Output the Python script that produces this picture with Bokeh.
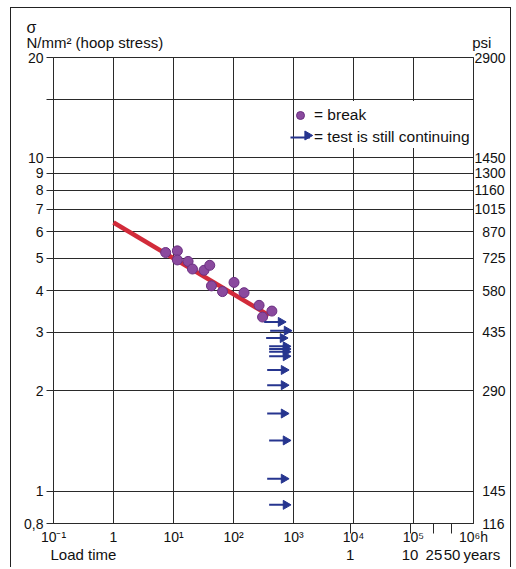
import math
from bokeh.plotting import figure
from bokeh.models import (Range1d, LogAxis, FixedTicker, Legend, LegendItem,
                          ColumnDataSource, BoxAnnotation)
from bokeh.embed import file_html
from bokeh.resources import INLINE

# ---------------- data ----------------
break_hours = [7.4, 11.6, 11.6, 17.5, 20.7, 32.3, 40.2, 42.9, 65.5, 102, 150, 267, 305, 436]
break_stress = [5.20, 5.26, 4.94, 4.89, 4.64, 4.60, 4.76, 4.13, 3.97, 4.23, 3.94, 3.61, 3.33, 3.47]

fit_hours = [1.0, 390.0]
fit_stress = [6.4, 3.37]

running_hours = [617, 776, 665, 746, 746, 746, 746, 692, 692, 692, 746, 692, 746]
running_stress = [3.22, 3.03, 2.88, 2.72, 2.67, 2.62, 2.54, 2.31, 2.08, 1.71, 1.42, 1.09, 0.91]

stress_ticks = [0.8, 1, 2, 3, 4, 5, 6, 7, 8, 9, 10, 20]
stress_labels = ["0,8", "1", "2", "3", "4", "5", "6", "7", "8", "9", "10", "20"]
psi_labels = ["116", "145", "290", "435", "580", "725", "870", "1015", "1160", "1300", "1450", "2900"]
grid_stress = [1, 2, 3, 4, 5, 6, 7, 8, 9, 10, 15]

hour_ticks = [0.1, 1, 10, 100, 1000, 10000, 100000, 1000000]
hour_labels = ["10\u207b\u00b9", "1", "10\u00b9", "10\u00b2", "10\u00b3", "10\u2074", "10\u2075", "10\u2076h"]

year_values = [1, 10, 25, 50]
year_labels = ["1", "10", "25", "50"]
HOURS_PER_YEAR = 8760

# ---------------- style / layout constants ----------------
FONT = "Liberation Sans"
FS = "14px"
FS2 = "15px"
INK = "#111111"
LINE = "#2a2a2a"
PURPLE = "#8a4a9e"
PURPLE_EDGE = "#6b2f82"
RED = "#d22b3a"
NAVY = "#26358f"
ARROW_TAIL_RATIO = 1.9
FIG_SPACE = "\u2007"
# legend decoration: arrow-head of the "still continuing" sample (legend box position)
LEGEND_HEAD_AT = (1711, 11.67)

p = figure(width=501, height=560, x_axis_type="log", y_axis_type="log",
           x_range=Range1d(0.1, 1e6), y_range=Range1d(0.8, 20),
           output_backend="svg", toolbar_location=None,
           min_border_left=42, min_border_right=39, min_border_top=49, min_border_bottom=45,
           background_fill_color="white", border_fill_color="white")
p.styles = {"margin-left": "10px", "margin-top": "7px",
            "border-top": "1px solid #222", "border-left": "1px solid #222",
            "border-right": "1px solid #222"}
p.outline_line_color = LINE
p.outline_line_width = 1

# title row: sigma
p.title.text = "\u03c3"
p.title.align = "left"
p.title.offset = -27
p.title.standoff = -10
p.title.text_font = FONT
p.title.text_font_size = "16px"
p.title.text_font_style = "normal"
p.title.text_color = INK

# grids
p.xgrid.ticker = FixedTicker(ticks=hour_ticks[1:-1])
p.ygrid.ticker = FixedTicker(ticks=grid_stress)
for g in (p.xgrid[0], p.ygrid[0]):
    g.grid_line_color = LINE
    g.grid_line_width = 1
    g.minor_grid_line_color = None

# bottom axis (hours)
xa = p.xaxis[0]
xa.ticker = FixedTicker(ticks=hour_ticks,
                        minor_ticks=[y * HOURS_PER_YEAR for y in year_values])
xa.major_label_overrides = {t: l for t, l in zip(hour_ticks, hour_labels)}
xa.major_tick_in = 0
xa.major_tick_out = 0
xa.minor_tick_in = 0
xa.minor_tick_out = 10
xa.minor_tick_line_color = LINE
xa.axis_line_color = LINE
xa.major_label_standoff = -5

# second bottom row: load time / years
row_hours = [0.316] + [y * HOURS_PER_YEAR for y in year_values] + [1e6]
row_text = ["Load time"] + year_labels + [FIG_SPACE * 2 + "years"]
xb = LogAxis(ticker=FixedTicker(ticks=row_hours, minor_ticks=[]))
xb.major_label_overrides = {t: l for t, l in zip(row_hours, row_text)}
p.add_layout(xb, "below")

# top row: unit labels
top_hours = [0.488, 1e6]
top_text = ["N/mm\u00b2 (hoop stress)", FIG_SPACE * 2 + "psi"]
xt = LogAxis(ticker=FixedTicker(ticks=top_hours, minor_ticks=[]))
xt.major_label_overrides = {t: l for t, l in zip(top_hours, top_text)}
p.add_layout(xt, "above")

for ax, so in ((xb, -2), (xt, 7)):
    ax.axis_line_color = None
    ax.major_tick_line_color = None
    ax.minor_tick_line_color = None
    ax.major_tick_out = 0
    ax.major_tick_in = 0
    ax.minor_tick_out = 0
    ax.minor_tick_in = 0
    ax.major_label_standoff = so
    ax.major_label_text_font = FONT
    ax.major_label_text_font_size = FS2
    ax.major_label_text_color = INK

# left axis
ya = p.yaxis[0]
ya.ticker = FixedTicker(ticks=stress_ticks + [15], minor_ticks=[])
ov = {t: l for t, l in zip(stress_ticks, stress_labels)}
ov[15] = ""
ya.major_label_overrides = ov
ya.major_tick_in = 0
ya.major_tick_out = 7
ya.major_tick_line_color = LINE
ya.minor_tick_line_color = None
ya.axis_line_color = LINE
ya.major_label_standoff = 3

# right axis (psi)
ra = LogAxis(ticker=FixedTicker(ticks=stress_ticks, minor_ticks=[]))
ra.major_label_overrides = {t: l.rjust(4, FIG_SPACE) for t, l in zip(stress_ticks, psi_labels)}
ra.major_tick_in = 0
ra.major_tick_out = 0
ra.minor_tick_line_color = None
ra.axis_line_color = LINE
ra.major_label_standoff = 1
p.add_layout(ra, "right")

for ax in (xa, ya, ra):
    ax.major_label_text_font = FONT
    ax.major_label_text_font_size = FS
    ax.major_label_text_color = INK

# white-out behind the legend (hides grid lines there), drawn just above the grid
p.add_layout(BoxAnnotation(left=1130, right=9.3e5, top=14.8, bottom=10.7, level="underlay",
                           fill_color="white", fill_alpha=1, line_color=None))

# ---------------- marks ----------------
fit = p.line(fit_hours, fit_stress, line_color=RED, line_width=4.5)

brk = p.scatter(break_hours, break_stress, size=10, marker="circle",
                fill_color=PURPLE, line_color=PURPLE_EDGE, line_width=1)

run_src = ColumnDataSource(dict(
    x=running_hours, y=running_stress,
    x0=[h / ARROW_TAIL_RATIO for h in running_hours],
    ang=[-math.pi / 2] * len(running_hours)))
seg = p.segment(x0="x0", y0="y", x1="x", y1="y", source=run_src,
                line_color=NAVY, line_width=2)
tri = p.scatter(x="x", y="y", source=run_src, marker="triangle", size=9,
                angle="ang", fill_color=NAVY, line_color=NAVY)

# legend sample arrow-head (legend glyphs are never rotated by Bokeh)
p.scatter(x=[LEGEND_HEAD_AT[0]], y=[LEGEND_HEAD_AT[1]], marker="triangle", size=9,
          angle=-math.pi / 2, fill_color=NAVY, line_color=NAVY)

legend = Legend(items=[LegendItem(label="= break", renderers=[brk]),
                       LegendItem(label="= test is still continuing", renderers=[seg])],
                location=(237, 376), margin=0, padding=2, spacing=2,
                glyph_width=20, glyph_height=20, label_height=20, label_standoff=4,
                label_text_font=FONT, label_text_font_size="15.5px", label_text_color=INK,
                border_line_color=None, background_fill_alpha=0)
p.add_layout(legend, "center")

open("out.html", "w").write(file_html(p, INLINE))
